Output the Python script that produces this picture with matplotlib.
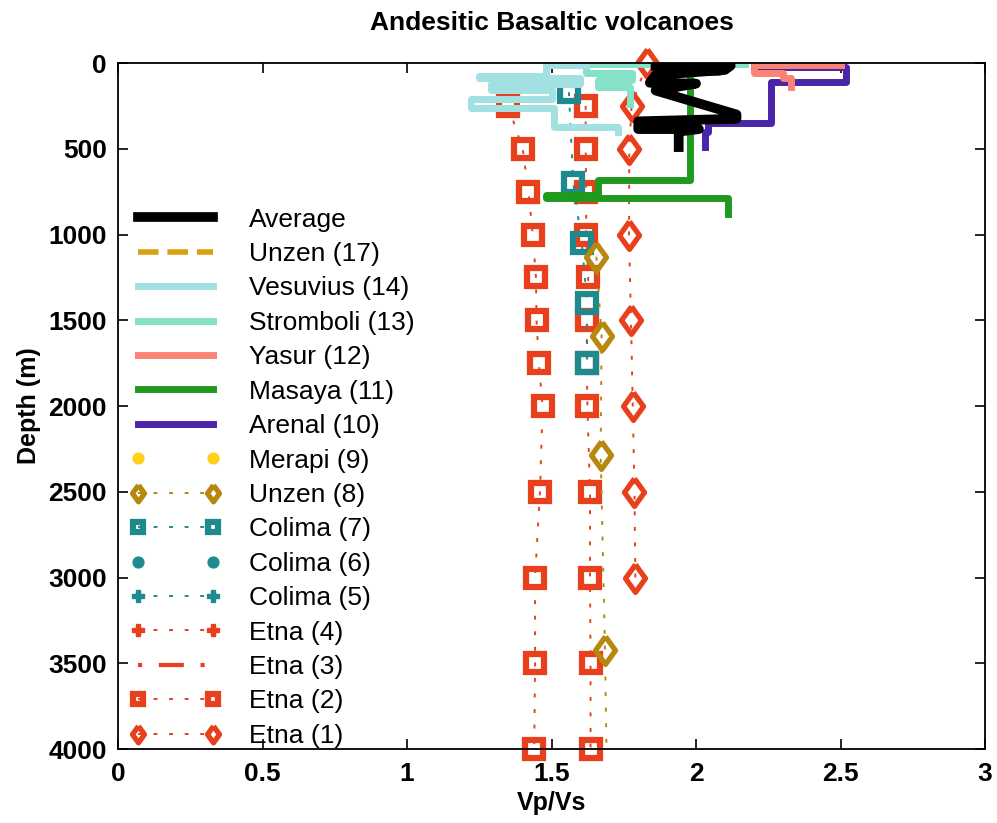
import numpy as np
import matplotlib.pyplot as plt

plt.rcParams['font.family'] = ['Liberation Sans', 'DejaVu Sans']

# --- data (Vp/Vs, depth in m) ---
etna1_vp = [1.83, 1.777, 1.769, 1.768, 1.775, 1.781, 1.787, 1.79]
etna1_z = [0, 250, 500, 1000, 1500, 2000, 2500, 3000]

etna2_z = [250, 500, 750, 1000, 1250, 1500, 1750, 2000, 2500, 3000, 3500, 4000]
etna2_vp_a = [1.35, 1.40, 1.42, 1.435, 1.446, 1.448, 1.456, 1.469, 1.46, 1.443, 1.443, 1.44]
etna2_vp_b = [1.618, 1.618, 1.62, 1.62, 1.627, 1.622, 1.622, 1.624, 1.633, 1.633, 1.635, 1.635]

etna3_vp, etna3_z = [], []
etna4_vp, etna4_z = [], []
colima5_vp, colima5_z = [], []
colima6_vp, colima6_z = [], []

colima7_vp = [1.56, 1.575, 1.605, 1.623, 1.623]
colima7_z = [170, 700, 1050, 1400, 1750]

unzen8_vp = [1.655, 1.673, 1.67, 1.685, 1.69]
unzen8_z = [1130, 1590, 2285, 3425, 4000]

merapi_vp = [1.90]
merapi_z = [45]

arenal_vp = [2.20, 2.52, 2.52, 2.26, 2.26, 2.04, 2.04, 2.03, 2.03]
arenal_z = [25, 25, 110, 110, 350, 350, 400, 400, 490]

masaya_vp = [2.08, 2.08, 1.98, 1.98, 1.66, 1.66, 1.48, 1.48, 2.11, 2.11]
masaya_z = [0, 55, 55, 680, 680, 770, 770, 785, 785, 880]

yasur_vp = [2.50, 2.20, 2.20, 2.30, 2.30, 2.33, 2.33]
yasur_z = [10, 10, 60, 60, 90, 90, 140]

stromboli_vp = [2.17, 1.62, 1.62, 1.78, 1.78, 1.66, 1.66, 1.77, 1.77]
stromboli_z = [5, 5, 60, 60, 100, 100, 140, 140, 240]

vesuvius_vp = [1.62, 1.48, 1.48, 1.25, 1.25, 1.60, 1.60, 1.29, 1.29, 1.50, 1.50,
               1.22, 1.22, 1.51, 1.51, 1.73, 1.73]
vesuvius_z = [10, 10, 75, 75, 90, 90, 125, 125, 160, 160, 210, 210, 265, 265,
              375, 375, 400]

unzen17_vp = [1.96, 1.88, 1.88]
unzen17_z = [40, 40, 70]

avg_vp = [1.86, 2.12, 2.10, 1.86, 1.84, 2.00, 1.86, 2.14, 2.14, 1.80, 1.80, 2.01, 1.94, 1.94]
avg_z = [15, 15, 40, 70, 115, 120, 160, 300, 325, 340, 385, 385, 400, 490]

xticks = [0, 0.5, 1, 1.5, 2, 2.5, 3]
xticklabels = ['0', '0.5', '1', '1.5', '2', '2.5', '3']
yticks = [0, 500, 1000, 1500, 2000, 2500, 3000, 3500, 4000]

# colours / styles
red = '#e8401c'
gold = '#b8880e'
teal = '#1f8a8e'
dot = (0, (2, 6))
diamond = [(0, 1), (0.72, 0), (0, -1), (-0.72, 0), (0, 1)]

fig = plt.figure(figsize=(9.97, 8.23), dpi=100)
ax = fig.add_axes([0.1184, 0.0899, 0.8696, 0.8335])

h = {}
h['e1'], = ax.plot(etna1_vp, etna1_z, color=red, ls=dot, lw=1.4, marker=diamond,
                   ms=20, mfc='none', mec=red, mew=3.8, clip_on=False)
e2_vp = etna2_vp_a + [np.nan] + etna2_vp_b
e2_z = etna2_z + [np.nan] + etna2_z
h['e2'], = ax.plot(e2_vp, e2_z, color=red, ls=dot, lw=1.4, marker='s',
                   ms=12.5, mfc='none', mec=red, mew=4.5, clip_on=False)
h['e3'], = ax.plot(etna3_vp, etna3_z, color=red, ls=(0, (1, 4, 6, 4)), lw=3)
h['e4'], = ax.plot(etna4_vp, etna4_z, color=red, ls=dot, lw=1.4, marker='P', ms=14)
h['c5'], = ax.plot(colima5_vp, colima5_z, color=teal, ls=dot, lw=1.4, marker='P', ms=14)
h['c6'], = ax.plot(colima6_vp, colima6_z, color=teal, ls='none', marker='o', ms=13)
h['c7'], = ax.plot(colima7_vp, colima7_z, color=teal, ls=dot, lw=1.4, marker='s',
                   ms=12.5, mfc='none', mec=teal, mew=4.5)
h['u8'], = ax.plot(unzen8_vp, unzen8_z, color=gold, ls=dot, lw=1.4, marker=diamond,
                   ms=20, mfc='none', mec=gold, mew=3.8, markevery=[0, 1, 2, 3])
h['m9'], = ax.plot(merapi_vp, merapi_z, color='#ffd21a', ls='none', marker='o', ms=13)
h['ar'], = ax.plot(arenal_vp, arenal_z, color='#4a25a8', lw=5)
h['ma'], = ax.plot(masaya_vp, masaya_z, color='#1f9a1f', lw=5)
h['ya'], = ax.plot(yasur_vp, yasur_z, color='#fa8474', lw=5)
h['st'], = ax.plot(stromboli_vp, stromboli_z, color='#84e2c8', lw=5)
h['ve'], = ax.plot(vesuvius_vp, vesuvius_z, color='#a2e0e2', lw=5)
h['u17'], = ax.plot(unzen17_vp, unzen17_z, color='#d9a010', ls='--', lw=4)
h['avg'], = ax.plot(avg_vp, avg_z, color='black', lw=7)

order = ['avg', 'u17', 've', 'st', 'ya', 'ma', 'ar', 'm9', 'u8', 'c7', 'c6', 'c5',
         'e4', 'e3', 'e2', 'e1']
labels = ['Average', 'Unzen (17)', 'Vesuvius (14)', 'Stromboli (13)', 'Yasur (12)',
          'Masaya (11)', 'Arenal (10)', 'Merapi (9)', 'Unzen (8)', 'Colima (7)',
          'Colima (6)', 'Colima (5)', 'Etna (4)', 'Etna (3)', 'Etna (2)', 'Etna (1)']
ax.legend([h[k] for k in order], labels, loc='lower left', bbox_to_anchor=(0.006, -0.008),
          frameon=False, fontsize=19, numpoints=2, markerscale=0.6,
          handlelength=3.45, handletextpad=1.05, labelspacing=0.395,
          borderaxespad=0.0, borderpad=0.25)

ax.set_xlim(0, 3)
ax.set_ylim(4000, 0)
ax.set_xticks(xticks)
ax.set_xticklabels(xticklabels)
ax.set_yticks(yticks)
ax.tick_params(direction='in', length=7, width=1.2, top=True, right=True,
               labelsize=19)
ax.tick_params(axis='x', pad=9)
ax.tick_params(axis='y', pad=8)
for lab in ax.get_xticklabels() + ax.get_yticklabels():
    lab.set_fontweight('bold')
for s in ax.spines.values():
    s.set_linewidth(1.3)

ax.set_xlabel('Vp/Vs', fontsize=18, fontweight='bold', labelpad=4)
ax.set_ylabel('Depth (m)', fontsize=18, fontweight='bold', labelpad=5)
ax.set_title('Andesitic Basaltic volcanoes', fontsize=19, fontweight='bold', pad=24)

fig.savefig('out.png', dpi=100)
